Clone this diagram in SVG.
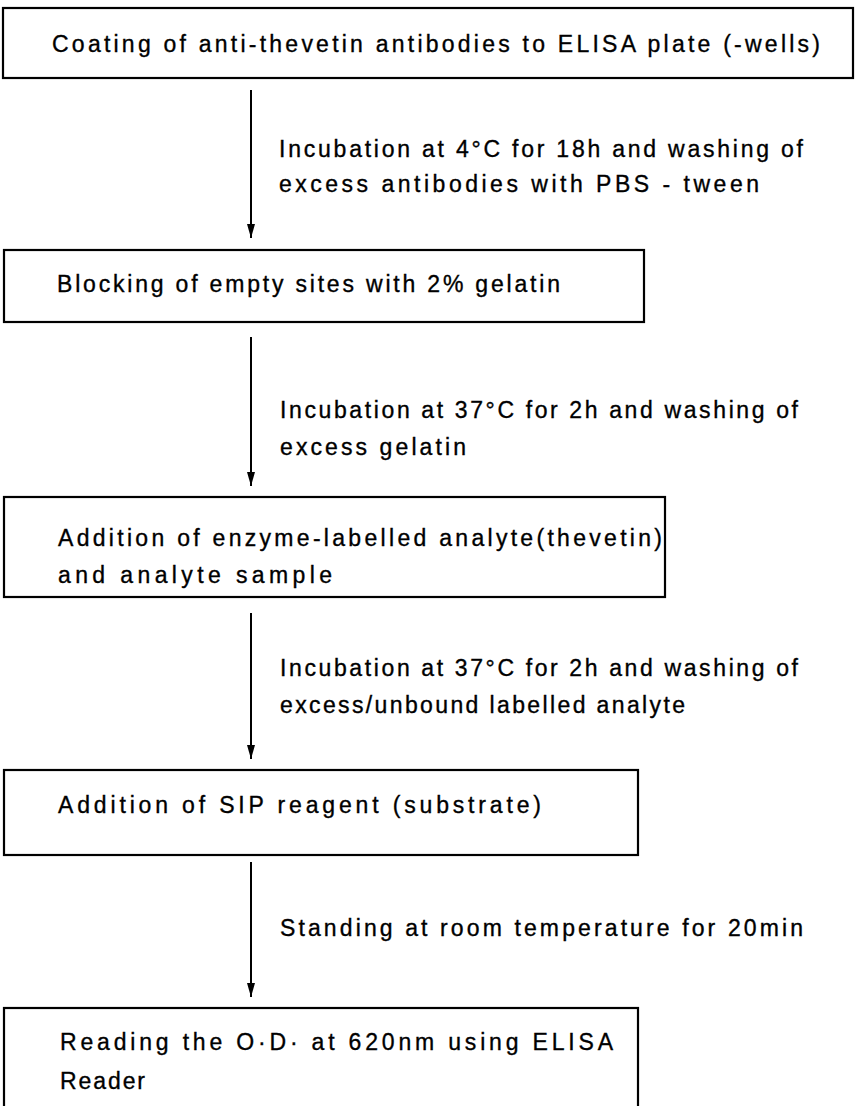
<svg xmlns="http://www.w3.org/2000/svg" width="857" height="1106" viewBox="0 0 857 1106">
<defs>
<style>
.box{fill:#fff;stroke:#000;stroke-width:2.2}
.t{font-family:"Liberation Sans",Arial,sans-serif;font-size:23px;fill:#000;stroke:#000;stroke-width:0.35}
.c{stroke:#000;stroke-width:2;fill:none}
</style>
<marker id="ah" markerWidth="14" markerHeight="9" refX="14" refY="4.5" orient="auto" markerUnits="userSpaceOnUse" viewBox="0 0 14 9">
<path d="M0,0.5 L14,4.5 L0,8.5 Z" fill="#000"/>
</marker>
</defs>
<rect width="857" height="1106" fill="#fff"/>
<g id="node1">
<rect class="box" x="3" y="8" width="850" height="70"/>
<text class="t" x="52" y="52" textLength="768" lengthAdjust="spacing">Coating of anti-thevetin antibodies to ELISA plate (-wells)</text>
</g>
<g id="node2">
<rect class="box" x="4" y="250" width="640" height="72"/>
<text class="t" x="57" y="292" textLength="503" lengthAdjust="spacing">Blocking of empty sites with 2% gelatin</text>
</g>
<g id="node3">
<rect class="box" x="4" y="497" width="661" height="100"/>
<text class="t" x="58" y="546" textLength="604" lengthAdjust="spacing">Addition of enzyme-labelled analyte(thevetin)</text>
<text class="t" x="58" y="583" textLength="274" lengthAdjust="spacing">and analyte sample</text>
</g>
<g id="node4">
<rect class="box" x="4" y="770" width="634" height="85"/>
<text class="t" x="58" y="813" textLength="483" lengthAdjust="spacing">Addition of SIP reagent (substrate)</text>
</g>
<g id="node5">
<rect class="box" x="4" y="1008" width="634" height="102"/>
<text class="t" x="60" y="1050" textLength="553" lengthAdjust="spacing">Reading the O·D· at 620nm using ELISA</text>
<text class="t" x="60" y="1089" textLength="85" lengthAdjust="spacing">Reader</text>
</g>
<g id="connectors">
<line class="c" x1="251" y1="90" x2="251" y2="238" marker-end="url(#ah)"/>
<line class="c" x1="251" y1="337" x2="251" y2="486" marker-end="url(#ah)"/>
<line class="c" x1="251" y1="613" x2="251" y2="759" marker-end="url(#ah)"/>
<line class="c" x1="251" y1="862" x2="251" y2="997" marker-end="url(#ah)"/>
<text class="t" x="279" y="157" textLength="524" lengthAdjust="spacing">Incubation at 4°C for 18h and washing of</text>
<text class="t" x="279" y="192" textLength="480" lengthAdjust="spacing">excess antibodies with PBS - tween</text>
<text class="t" x="280" y="418" textLength="518" lengthAdjust="spacing">Incubation at 37°C for 2h and washing of</text>
<text class="t" x="280" y="455" textLength="186" lengthAdjust="spacing">excess gelatin</text>
<text class="t" x="280" y="676" textLength="518" lengthAdjust="spacing">Incubation at 37°C for 2h and washing of</text>
<text class="t" x="280" y="713" textLength="405" lengthAdjust="spacing">excess/unbound labelled analyte</text>
<text class="t" x="280" y="936" textLength="523" lengthAdjust="spacing">Standing at room temperature for 20min</text>
</g>
</svg>
